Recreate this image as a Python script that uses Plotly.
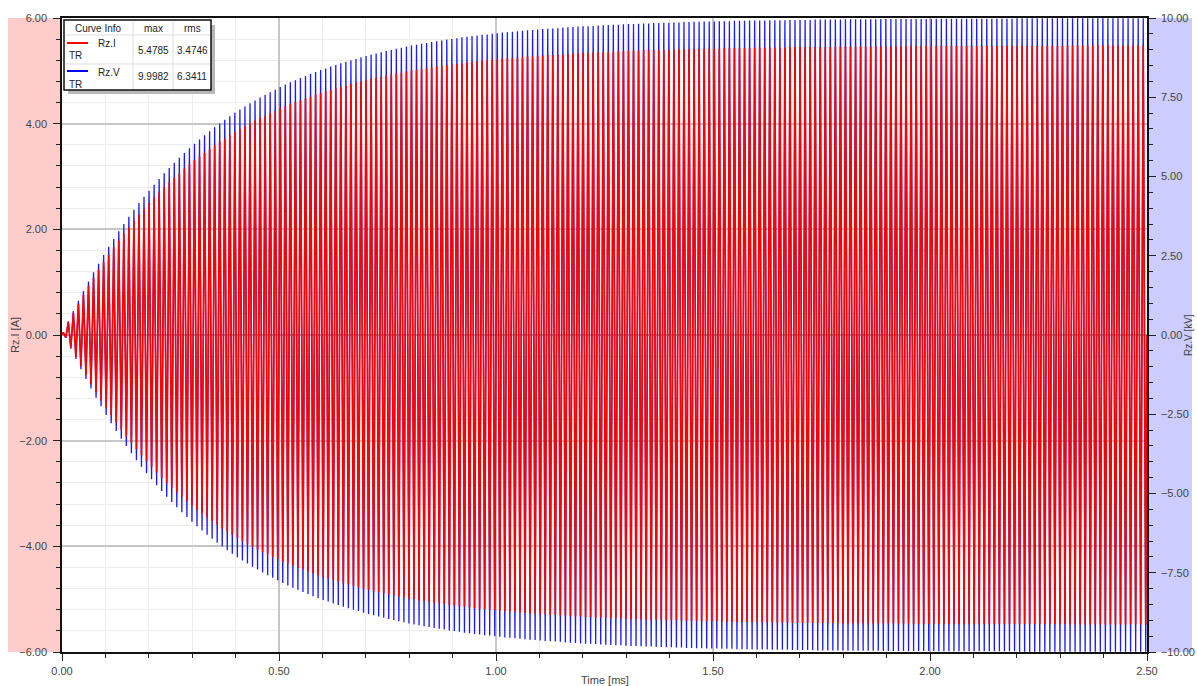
import plotly.graph_objects as go

# ---------------- data ----------------
time_start_ms = 0.0
time_end_ms = 2.5
cycles = 215  # oscillation cycles counted across the 0 - 2.5 ms window

# peak amplitude of each cycle, Rz.I [A]
rz_i_peaks = [
    0.05, 0.24, 0.42, 0.59, 0.76, 0.93, 1.08, 1.24, 1.38, 1.52,
    1.66, 1.79, 1.92, 2.04, 2.16, 2.28, 2.39, 2.50, 2.60, 2.70,
    2.80, 2.89, 2.98, 3.06, 3.15, 3.23, 3.31, 3.38, 3.45, 3.52,
    3.59, 3.66, 3.72, 3.78, 3.84, 3.90, 3.95, 4.01, 4.06, 4.11,
    4.15, 4.20, 4.24, 4.29, 4.33, 4.37, 4.41, 4.44, 4.48, 4.51,
    4.55, 4.58, 4.61, 4.64, 4.67, 4.70, 4.72, 4.75, 4.78, 4.80,
    4.82, 4.85, 4.87, 4.89, 4.91, 4.93, 4.95, 4.97, 4.99, 5.00,
    5.02, 5.03, 5.05, 5.07, 5.08, 5.09, 5.11, 5.12, 5.13, 5.14,
    5.16, 5.17, 5.18, 5.19, 5.20, 5.21, 5.22, 5.23, 5.24, 5.24,
    5.25, 5.26, 5.27, 5.27, 5.28, 5.29, 5.30, 5.30, 5.31, 5.31,
    5.32, 5.33, 5.33, 5.34, 5.34, 5.35, 5.35, 5.35, 5.36, 5.36,
    5.37, 5.37, 5.38, 5.38, 5.38, 5.39, 5.39, 5.39, 5.40, 5.40,
    5.40, 5.40, 5.41, 5.41, 5.41, 5.41, 5.42, 5.42, 5.42, 5.42,
    5.42, 5.43, 5.43, 5.43, 5.43, 5.43, 5.43, 5.44, 5.44, 5.44,
    5.44, 5.44, 5.44, 5.44, 5.45, 5.45, 5.45, 5.45, 5.45, 5.45,
    5.45, 5.45, 5.45, 5.46, 5.46, 5.46, 5.46, 5.46, 5.46, 5.46,
    5.46, 5.46, 5.46, 5.46, 5.46, 5.46, 5.46, 5.46, 5.47, 5.47,
    5.47, 5.47, 5.47, 5.47, 5.47, 5.47, 5.47, 5.47, 5.47, 5.47,
    5.47, 5.47, 5.47, 5.47, 5.47, 5.47, 5.47, 5.47, 5.47, 5.47,
    5.47, 5.47, 5.47, 5.47, 5.47, 5.47, 5.47, 5.47, 5.47, 5.48,
    5.48, 5.48, 5.48, 5.48, 5.48, 5.48, 5.48, 5.48, 5.48, 5.48,
    5.48, 5.48, 5.48, 5.48, 5.48,
]

# peak amplitude of each cycle, Rz.V [kV]
rz_v_peaks = [
    0.09, 0.43, 0.76, 1.08, 1.39, 1.69, 1.98, 2.25, 2.52, 2.78,
    3.03, 3.27, 3.50, 3.73, 3.95, 4.16, 4.36, 4.55, 4.74, 4.92,
    5.10, 5.27, 5.43, 5.59, 5.74, 5.89, 6.03, 6.17, 6.30, 6.43,
    6.55, 6.67, 6.79, 6.90, 7.01, 7.11, 7.21, 7.31, 7.40, 7.49,
    7.58, 7.66, 7.74, 7.82, 7.90, 7.97, 8.04, 8.11, 8.17, 8.24,
    8.30, 8.36, 8.41, 8.47, 8.52, 8.57, 8.62, 8.67, 8.71, 8.76,
    8.80, 8.84, 8.88, 8.92, 8.96, 8.99, 9.03, 9.06, 9.10, 9.13,
    9.16, 9.19, 9.21, 9.24, 9.27, 9.29, 9.32, 9.34, 9.36, 9.39,
    9.41, 9.43, 9.45, 9.47, 9.48, 9.50, 9.52, 9.54, 9.55, 9.57,
    9.58, 9.60, 9.61, 9.62, 9.64, 9.65, 9.66, 9.67, 9.68, 9.70,
    9.71, 9.72, 9.73, 9.74, 9.74, 9.75, 9.76, 9.77, 9.78, 9.79,
    9.79, 9.80, 9.81, 9.81, 9.82, 9.83, 9.83, 9.84, 9.84, 9.85,
    9.85, 9.86, 9.86, 9.87, 9.87, 9.88, 9.88, 9.89, 9.89, 9.89,
    9.90, 9.90, 9.90, 9.91, 9.91, 9.91, 9.92, 9.92, 9.92, 9.92,
    9.93, 9.93, 9.93, 9.93, 9.94, 9.94, 9.94, 9.94, 9.94, 9.95,
    9.95, 9.95, 9.95, 9.95, 9.95, 9.96, 9.96, 9.96, 9.96, 9.96,
    9.96, 9.96, 9.97, 9.97, 9.97, 9.97, 9.97, 9.97, 9.97, 9.97,
    9.97, 9.97, 9.97, 9.98, 9.98, 9.98, 9.98, 9.98, 9.98, 9.98,
    9.98, 9.98, 9.98, 9.98, 9.98, 9.98, 9.98, 9.98, 9.98, 9.99,
    9.99, 9.99, 9.99, 9.99, 9.99, 9.99, 9.99, 9.99, 9.99, 9.99,
    9.99, 9.99, 9.99, 9.99, 9.99, 9.99, 9.99, 9.99, 9.99, 9.99,
    9.99, 9.99, 9.99, 9.99, 9.99,
]

legend_names = ["Rz.I", "Rz.V"]
legend_max = ["5.4785", "9.9982"]
legend_rms = ["3.4746", "6.3411"]

# ---------------- build the waveform samples ----------------
period = (time_end_ms - time_start_ms) / cycles
t_ms = [time_start_ms]
i_vals = [0.0]
v_vals = [0.0]
for k, (a, b) in enumerate(zip(rz_i_peaks, rz_v_peaks)):
    t_ms += [time_start_ms + (k + 0.25) * period, time_start_ms + (k + 0.75) * period]
    i_vals += [a, -a]
    v_vals += [b, -b]
t_ms.append(time_end_ms)
i_vals.append(0.0)
v_vals.append(0.0)

# ---------------- layout geometry ----------------
W, H = 1197, 686
L, R, T, B = 62, 50, 18, 34
PW, PH = W - L - R, H - T - B
FONT = "Liberation Sans, Arial, sans-serif"
TXT = "#444444"


def px(x):
    return (x - L) / PW


def py(y):
    return (H - B - y) / PH


fig = go.Figure()
# blue first (primary axis), red drawn over it (overlaying axis)
fig.add_trace(go.Scatter(x=t_ms, y=v_vals, mode="lines", yaxis="y",
                         line=dict(color="#1a1aff", width=1.3), name="Rz.V",
                         showlegend=False, hoverinfo="skip"))
fig.add_trace(go.Scatter(x=t_ms, y=i_vals, mode="lines", yaxis="y2",
                         line=dict(color="#ff0000", width=1.7), name="Rz.I",
                         showlegend=False, hoverinfo="skip"))

shapes = [
    # coloured axis bands
    dict(type="rect", xref="paper", yref="paper", x0=px(8), x1=0, y0=0, y1=1,
         fillcolor="#ffcccc", line=dict(width=0), layer="below"),
    dict(type="rect", xref="paper", yref="paper", x0=1, x1=px(1192), y0=0, y1=1,
         fillcolor="#ccccff", line=dict(width=0), layer="below"),
    # legend table shadow + box
    dict(type="rect", xref="paper", yref="paper", x0=px(68), x1=px(215), y0=py(94), y1=py(25),
         fillcolor="#b8b8b8", line=dict(width=0), layer="above"),
    dict(type="rect", xref="paper", yref="paper", x0=px(64), x1=px(211), y0=py(90), y1=py(20),
         fillcolor="white", line=dict(color="#111111", width=1.5), layer="above"),
    # inner grid of the table
    dict(type="line", xref="paper", yref="paper", x0=px(133), x1=px(133), y0=py(89), y1=py(21),
         line=dict(color="#dddddd", width=1), layer="above"),
    dict(type="line", xref="paper", yref="paper", x0=px(173), x1=px(173), y0=py(89), y1=py(21),
         line=dict(color="#dddddd", width=1), layer="above"),
    dict(type="line", xref="paper", yref="paper", x0=px(65), x1=px(210), y0=py(35), y1=py(35),
         line=dict(color="#dddddd", width=1), layer="above"),
    dict(type="line", xref="paper", yref="paper", x0=px(65), x1=px(210), y0=py(64), y1=py(64),
         line=dict(color="#dddddd", width=1), layer="above"),
    # legend line samples
    dict(type="line", xref="paper", yref="paper", x0=px(67), x1=px(88), y0=py(43), y1=py(43),
         line=dict(color="#ff0000", width=2), layer="above"),
    dict(type="line", xref="paper", yref="paper", x0=px(67), x1=px(88), y0=py(71), y1=py(71),
         line=dict(color="#0000ff", width=2), layer="above"),
]


def ann(text, x, y, size=10, xanchor="center", angle=0, color="#222222"):
    return dict(text=text, x=px(x), y=py(y), xref="paper", yref="paper",
                showarrow=False, xanchor=xanchor, yanchor="middle", textangle=angle,
                font=dict(family=FONT, size=size, color=color))


annotations = [
    ann("Curve Info", 98, 28),
    ann("max", 153, 28),
    ann("rms", 192, 28),
    ann(legend_names[0], 96, 44, xanchor="left"),
    ann("TR", 67, 56, xanchor="left"),
    ann(legend_max[0], 153, 50),
    ann(legend_rms[0], 192, 50),
    ann(legend_names[1], 96, 72, xanchor="left"),
    ann("TR", 67, 84, xanchor="left"),
    ann(legend_max[1], 153, 77),
    ann(legend_rms[1], 192, 77),
    ann("Time [ms]", 605, 680, size=11, color=TXT),
    ann("Rz.I [A]", 15, 335, size=11, angle=-90, color=TXT),
    ann("Rz.V [kV]", 1188, 335, size=10, angle=-90, color=TXT),
]

fig.update_layout(
    width=W, height=H,
    margin=dict(l=L, r=R, t=T, b=B, pad=0),
    paper_bgcolor="white", plot_bgcolor="white",
    font=dict(family=FONT, size=11, color=TXT),
    showlegend=False,
    shapes=shapes, annotations=annotations,
    xaxis=dict(
        range=[time_start_ms, time_end_ms], tick0=0, dtick=0.5, tickformat=".2f",
        ticks="outside", ticklen=7, tickcolor="#222222", tickwidth=1,
        showline=True, linecolor="#111111", linewidth=2, mirror=True,
        showgrid=True, gridcolor="#c6c6c6", gridwidth=1.5, zeroline=False,
        tickfont=dict(size=11, color=TXT), ticklabelstandoff=1,
        minor=dict(dtick=0.1, ticks="outside", ticklen=4, tickcolor="#222222",
                   showgrid=True, gridcolor="#ececec", gridwidth=1),
        automargin=False,
    ),
    yaxis=dict(
        side="right", range=[-10, 10], tick0=0, dtick=2.5, tickformat=".2f",
        ticks="outside", ticklen=7, tickcolor="#222222",
        showline=True, linecolor="#111111", linewidth=1.5,
        showgrid=False, zeroline=False,
        tickfont=dict(size=11, color=TXT), ticklabelstandoff=3,
        minor=dict(dtick=0.5, ticks="outside", ticklen=4, tickcolor="#222222", showgrid=False),
        automargin=False,
    ),
    yaxis2=dict(
        overlaying="y", side="left", range=[-6, 6], tick0=0, dtick=2, tickformat=".2f",
        ticks="outside", ticklen=7, tickcolor="#222222",
        showline=True, linecolor="#111111", linewidth=1.5,
        showgrid=True, gridcolor="#c6c6c6", gridwidth=1.5,
        zeroline=True, zerolinecolor="#a8a8a8", zerolinewidth=1.5,
        tickfont=dict(size=11, color=TXT), ticklabelstandoff=4,
        minor=dict(dtick=0.4, ticks="outside", ticklen=4, tickcolor="#222222",
                   showgrid=True, gridcolor="#ececec", gridwidth=1),
        automargin=False,
    ),
)

fig.write_html("out.html", config={"displayModeBar": False})
